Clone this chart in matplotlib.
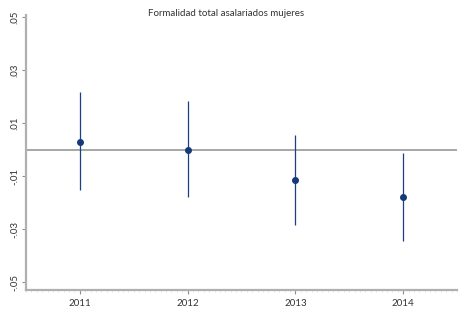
import numpy as np
import matplotlib.pyplot as plt

# --- Dados ---
anos = [2011, 2012, 2013, 2014]
coef = [0.0028, -0.0002, -0.0115, -0.0179]
ic_sup = [0.0217, 0.0183, 0.0055, -0.0013]
ic_inf = [-0.0153, -0.0179, -0.0285, -0.0345]
yticks = [-0.05, -0.03, -0.01, 0.01, 0.03, 0.05]
ytick_labels = ['-.05', '-.03', '-.01', '.01', '.03', '.05']
titulo = 'Formalidad total asalariados mujeres'

plt.rcParams['font.family'] = ['Lato', 'DejaVu Sans']

fig = plt.figure(figsize=(4.65, 3.15), dpi=100)
ax = fig.add_axes([26 / 465, 1 - 290 / 315, (457 - 26) / 465, (290 - 15) / 315])

cor = '#1f3f85'
ax.axhline(0, color='#a0a0a0', linewidth=1.3, zorder=1)
ax.vlines(anos, ic_inf, ic_sup, color=cor, linewidth=0.9, zorder=2)
ax.plot(anos, coef, 'o', color='#143a7a', markersize=4, zorder=3)

ax.set_xlim(2010.5, 2014.5)
ax.set_ylim(-0.053, 0.0508)
ax.set_xticks(anos)
ax.set_xticklabels([str(a) for a in anos])
ax.set_xticks(np.arange(2010.5, 2014.55, 0.05), minor=True)
ax.set_yticks(yticks)
ax.set_yticklabels(ytick_labels, rotation=90, va='center')

for s in ['top', 'right']:
    ax.spines[s].set_visible(False)
for s in ['left', 'bottom']:
    ax.spines[s].set_color('#b0b0b0')
    ax.spines[s].set_linewidth(1.6)

ax.tick_params(axis='both', colors='#909090', labelcolor='#333333', labelsize=7, length=3, width=0.8)
ax.tick_params(axis='x', which='minor', length=1.2, width=0.4, colors='#d0d0d0')
ax.tick_params(axis='y', pad=2)

fig.text(148 / 465, 1 - 13 / 315, titulo, fontsize=7, color='#333333', va='center', ha='left')

fig.savefig('out.png', dpi=100)
